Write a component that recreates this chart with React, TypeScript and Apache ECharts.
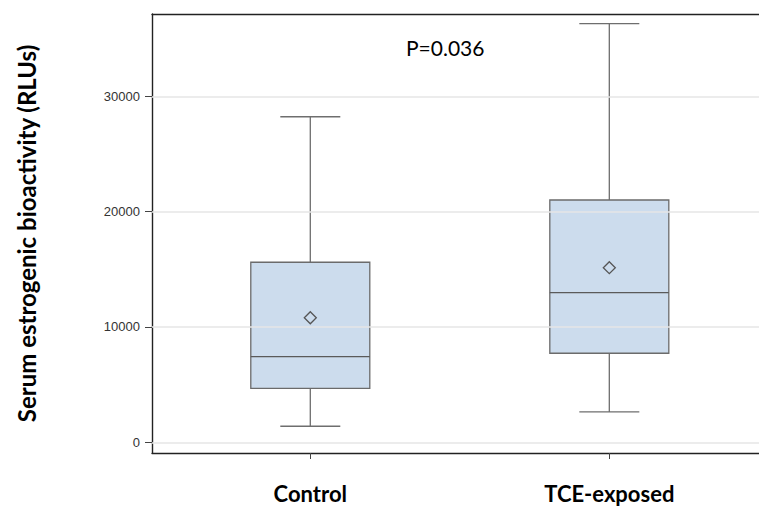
import React, { useEffect, useRef } from "react";
import * as echarts from "echarts";

const categories = ["Control", "TCE-exposed"];
const categoryPositions = [1, 2];
const whiskerLow = [1390, 2630];
const quartile1 = [4680, 7720];
const medians = [7420, 12970];
const quartile3 = [15610, 21010];
const whiskerHigh = [28230, 36300];
const means = [10800, 15140];
const yTicks = [0, 10000, 20000, 30000];
const pValueText = "P=0.036";
const yAxisTitle = "Serum estrogenic bioactivity (RLUs)";

export default function App() {
  const ref = useRef<HTMLDivElement>(null);
  useEffect(() => {
    if (!ref.current) return;
    const chart = echarts.init(ref.current, null, { renderer: "svg" });
    const boxData = categories.map((c, i) => [
      categoryPositions[i],
      whiskerLow[i],
      quartile1[i],
      medians[i],
      quartile3[i],
      whiskerHigh[i],
      means[i],
    ]);
    const option: any = {
      animation: false,
      backgroundColor: "#ffffff",
      grid: { left: 152, right: 0, top: 14, bottom: 55, show: false },
      xAxis: [
        {
          type: "value",
          min: 0.4706,
          max: 2.5006,
          position: "bottom",
          axisLine: { show: true, onZero: false, lineStyle: { color: "#222", width: 1.4 } },
          axisTick: {
            show: true,
            customValues: categoryPositions,
            length: 6,
            lineStyle: { color: "#444", width: 1 },
          },
          axisLabel: {
            show: true,
            customValues: categoryPositions,
            formatter: (v: number) => categories[Math.round(v) - 1] ?? "",
            fontFamily: "Lato",
            fontWeight: "bold",
            fontSize: 22,
            color: "#000",
            margin: 29,
          },
          splitLine: { show: false },
        },
        {
          type: "value",
          min: 0.4706,
          max: 2.5006,
          position: "top",
          axisLine: { show: true, onZero: false, lineStyle: { color: "#222", width: 1.4 } },
          axisTick: { show: false },
          axisLabel: { show: false },
          splitLine: { show: false },
        },
      ],
      yAxis: {
        type: "value",
        min: -930,
        max: 37140,
        axisLine: { show: true, onZero: false, lineStyle: { color: "#222", width: 1.4 } },
        axisTick: {
          show: true,
          customValues: yTicks,
          length: 7,
          lineStyle: { color: "#444", width: 1 },
        },
        axisLabel: {
          show: true,
          customValues: yTicks,
          formatter: (v: number) => String(Math.round(v)),
          fontFamily: "Liberation Sans",
          fontSize: 13,
          color: "#333",
          margin: 12,
        },
        splitLine: { show: false },
        name: yAxisTitle,
        nameLocation: "middle",
        nameGap: 114,
        nameTextStyle: {
          fontFamily: "Lato",
          fontWeight: "bold",
          fontSize: 24,
          color: "#000",
        },
      },
      graphic: [
        {
          type: "text",
          left: 406,
          top: 37,
          style: {
            text: pValueText,
            fontFamily: "Lato",
            fontSize: 21,
            fill: "#000",
          },
        },
      ],
      series: [
        {
          type: "line",
          data: [],
          z: 1,
          silent: true,
          markLine: {
            silent: true,
            symbol: "none",
            label: { show: false },
            lineStyle: { color: "#e6e6e6", width: 1.6, type: "solid" },
            data: yTicks.map((v) => ({ yAxis: v })),
          },
        },
        {
          type: "custom",
          z: 3,
          encode: { x: 0, y: [1, 2, 3, 4, 5, 6] },
          data: boxData,
          renderItem: (params: any, api: any) => {
            const x = api.value(0);
            const lo = api.coord([x, api.value(1)]);
            const q1 = api.coord([x, api.value(2)]);
            const med = api.coord([x, api.value(3)]);
            const q3 = api.coord([x, api.value(4)]);
            const hi = api.coord([x, api.value(5)]);
            const mn = api.coord([x, api.value(6)]);
            const cx = lo[0];
            const half = 59.5;
            const cap = 30;
            const d = 6;
            const wStyle = { stroke: "#6e6e6e", lineWidth: 1.3 };
            return {
              type: "group",
              children: [
                { type: "line", shape: { x1: cx, y1: q3[1], x2: cx, y2: hi[1] }, style: wStyle },
                { type: "line", shape: { x1: cx - cap, y1: hi[1], x2: cx + cap, y2: hi[1] }, style: wStyle },
                { type: "line", shape: { x1: cx, y1: q1[1], x2: cx, y2: lo[1] }, style: wStyle },
                { type: "line", shape: { x1: cx - cap, y1: lo[1], x2: cx + cap, y2: lo[1] }, style: wStyle },
                {
                  type: "rect",
                  shape: { x: cx - half, y: q3[1], width: half * 2, height: q1[1] - q3[1] },
                  style: { fill: "rgba(176,202,228,0.65)", stroke: "#6b6b6b", lineWidth: 1.3 },
                },
                {
                  type: "line",
                  shape: { x1: cx - half, y1: med[1], x2: cx + half, y2: med[1] },
                  style: { stroke: "#5a5a5a", lineWidth: 1.3 },
                },
                {
                  type: "polygon",
                  shape: {
                    points: [
                      [cx, mn[1] - d],
                      [cx + d, mn[1]],
                      [cx, mn[1] + d],
                      [cx - d, mn[1]],
                    ],
                  },
                  style: { fill: "none", stroke: "#555", lineWidth: 1.3 },
                },
              ],
            };
          },
        },
      ],
    };
    chart.setOption(option);
    return () => chart.dispose();
  }, []);
  return (
    <div
      ref={ref}
      style={{ position: "fixed", left: 0, top: 0, width: 759, height: 508 }}
    />
  );
}
